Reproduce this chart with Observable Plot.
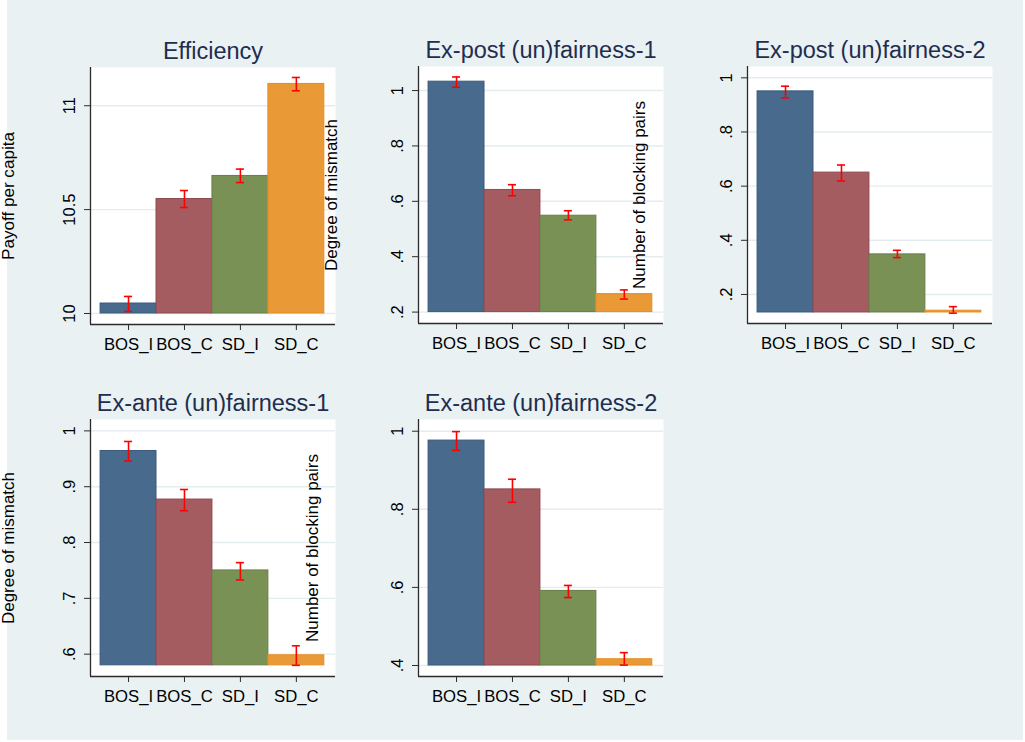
<!DOCTYPE html>
<html>
<head>
<meta charset="utf-8">
<script src="https://cdn.jsdelivr.net/npm/d3@7"></script>
<script src="https://cdn.jsdelivr.net/npm/@observablehq/plot@0.6"></script>
<style>
  html, body { margin: 0; padding: 0; background: #ffffff; }
  #page { position: relative; width: 1025px; height: 742px; overflow: hidden; background: #ffffff; font-family: "Liberation Sans", Arial, sans-serif; }
  #bg { position: absolute; left: 7px; top: 0px; width: 1016px; height: 740px; background: #e9f1f3; }
  .panel { position: absolute; }
</style>
</head>
<body>
<div id="page"><div id="bg"></div></div>
<script>
// ---- data ----
const categories = ["BOS_I", "BOS_C", "SD_I", "SD_C"];

const efficiency   = [10.048, 10.551, 10.662, 11.105];
const efficiencyLo = [10.010, 10.510, 10.630, 11.072];
const efficiencyHi = [10.082, 10.592, 10.695, 11.136];

const expost1   = [1.032, 0.641, 0.548, 0.265];
const expost1Lo = [1.012, 0.620, 0.533, 0.247];
const expost1Hi = [1.049, 0.660, 0.566, 0.280];

const expost2   = [0.950, 0.650, 0.348, 0.140];
const expost2Lo = [0.926, 0.619, 0.336, 0.131];
const expost2Hi = [0.969, 0.678, 0.363, 0.155];

const exante1   = [0.964, 0.877, 0.750, 0.598];
const exante1Lo = [0.946, 0.857, 0.733, 0.580];
const exante1Hi = [0.981, 0.895, 0.764, 0.615];

const exante2   = [0.976, 0.851, 0.591, 0.416];
const exante2Lo = [0.951, 0.818, 0.574, 0.401];
const exante2Hi = [0.999, 0.877, 0.605, 0.433];

const titles = ["Efficiency", "Ex-post (un)fairness-1", "Ex-post (un)fairness-2", "Ex-ante (un)fairness-1", "Ex-ante (un)fairness-2"];
const yTitles = ["Payoff per capita", "Degree of mismatch", "Number of blocking pairs", "Degree of mismatch", "Number of blocking pairs"];

const tickValues1 = [10, 10.5, 11];
const tickLabels1 = ["10", "10.5", "11"];
const tickValues2 = [0.2, 0.4, 0.6, 0.8, 1];
const tickLabels2 = [".2", ".4", ".6", ".8", "1"];
const tickValues3 = [0.2, 0.4, 0.6, 0.8, 1];
const tickLabels3 = [".2", ".4", ".6", ".8", "1"];
const tickValues4 = [0.6, 0.7, 0.8, 0.9, 1];
const tickLabels4 = [".6", ".7", ".8", ".9", "1"];
const tickValues5 = [0.4, 0.6, 0.8, 1];
const tickLabels5 = [".4", ".6", ".8", "1"];

const barBases = [10, 0.2, 0.1335, 0.58, 0.4];

// ---- styles ----
const fills   = ["#486a8c", "#a45c61", "#7a9156", "#e99a37"];
const strokes = ["#3a5a7d", "#8f4a50", "#667e44", "#e58e20"];
const titleColor = "#1f2d4f";
const axisColor = "#2b2b2b";
const gridColor = "#e3ecee";
const font = "'Liberation Sans', Arial, Helvetica, sans-serif";

// ---- layout (frame position in page, scale domains) ----
const layout = [
  {left: 90,  top: 66.5, yDomain: [9.947, 11.184], yTitleDx: -81.5},
  {left: 418, top: 66,   yDomain: [0.1588, 1.0868], yTitleDx: -86.5},
  {left: 747, top: 66,   yDomain: [0.0928, 1.0418], yTitleDx: -107.5},
  {left: 90,  top: 419.3, yDomain: [0.56, 1.0204], yTitleDx: -81.5},
  {left: 418, top: 419.3, yDomain: [0.3718, 1.030], yTitleDx: -106}
];

const series = [
  [efficiency, efficiencyLo, efficiencyHi, tickValues1, tickLabels1],
  [expost1, expost1Lo, expost1Hi, tickValues2, tickLabels2],
  [expost2, expost2Lo, expost2Hi, tickValues3, tickLabels3],
  [exante1, exante1Lo, exante1Hi, tickValues4, tickLabels4],
  [exante2, exante2Lo, exante2Hi, tickValues5, tickLabels5]
];

const frameW = 245, frameH = 257;
const mL = 125, mR = 10, mT = 52, mB = 42;
const xDomain = [-0.68, 3.70];
const capHalf = 0.072;

const page = document.getElementById("page");

series.forEach(([vals, lo, hi, tv, tl], p) => {
  const L = layout[p];
  const rows = categories.map((c, i) => ({cat: c, i, v: vals[i], lo: lo[i], hi: hi[i], base: barBases[p]}));
  const chart = Plot.plot({
    width: mL + frameW + mR,
    height: mT + frameH + mB,
    marginLeft: mL, marginRight: mR, marginTop: mT, marginBottom: mB,
    style: {background: "transparent", overflow: "visible", fontFamily: font, color: "#000"},
    x: {type: "linear", domain: xDomain},
    y: {type: "linear", domain: L.yDomain},
    marks: [
      Plot.frame({fill: "white", stroke: null}),
      Plot.gridY(tv, {stroke: gridColor, strokeOpacity: 1, strokeWidth: 1.4}),
      Plot.rect(rows, {x1: d => d.i - 0.5, x2: d => d.i + 0.5, y1: "base", y2: "v",
        fill: d => fills[d.i], stroke: d => strokes[d.i], strokeWidth: 1}),
      Plot.ruleX(rows, {x: "i", y1: "lo", y2: "hi", stroke: "#ff0000", strokeWidth: 1.6}),
      Plot.ruleY(rows, {y: "lo", x1: d => d.i - capHalf, x2: d => d.i + capHalf, stroke: "#ff0000", strokeWidth: 1.6}),
      Plot.ruleY(rows, {y: "hi", x1: d => d.i - capHalf, x2: d => d.i + capHalf, stroke: "#ff0000", strokeWidth: 1.6}),
      Plot.ruleX([xDomain[0]], {stroke: axisColor, strokeWidth: 1.3}),
      Plot.ruleY([L.yDomain[0]], {stroke: axisColor, strokeWidth: 1.3}),
      Plot.axisY({ticks: tv, tickFormat: v => tl[tv.indexOf(v)], tickSize: 6, tickPadding: 10,
        tickRotate: -90, fontSize: 16.5, stroke: axisColor, fill: "#000", label: null}),
      Plot.axisX({ticks: [0, 1, 2, 3], tickFormat: i => categories[i], tickSize: 6, tickPadding: 8,
        fontSize: 16.7, stroke: axisColor, fill: "#000", label: null}),
      Plot.text([titles[p]], {text: d => d, frameAnchor: "top", dy: -9, lineAnchor: "bottom",
        fontSize: 23.5, fill: titleColor}),
      Plot.text([yTitles[p]], {text: d => d, frameAnchor: "left", dx: L.yTitleDx, rotate: -90,
        lineAnchor: "middle", textAnchor: "middle", fontSize: 17, fill: "#000"})
    ]
  });
  chart.classList.add("panel");
  chart.style.left = (L.left - mL) + "px";
  chart.style.top = (L.top - mT) + "px";
  chart.style.maxWidth = "none";
  page.appendChild(chart);
  if (p === 0) {
    chart.querySelectorAll("text").forEach(t => {
      if (t.textContent === "Payoff per capita") {
        t.setAttribute("textLength", "128");
        t.setAttribute("lengthAdjust", "spacingAndGlyphs");
      }
    });
  }
});
</script>
</body>
</html>
